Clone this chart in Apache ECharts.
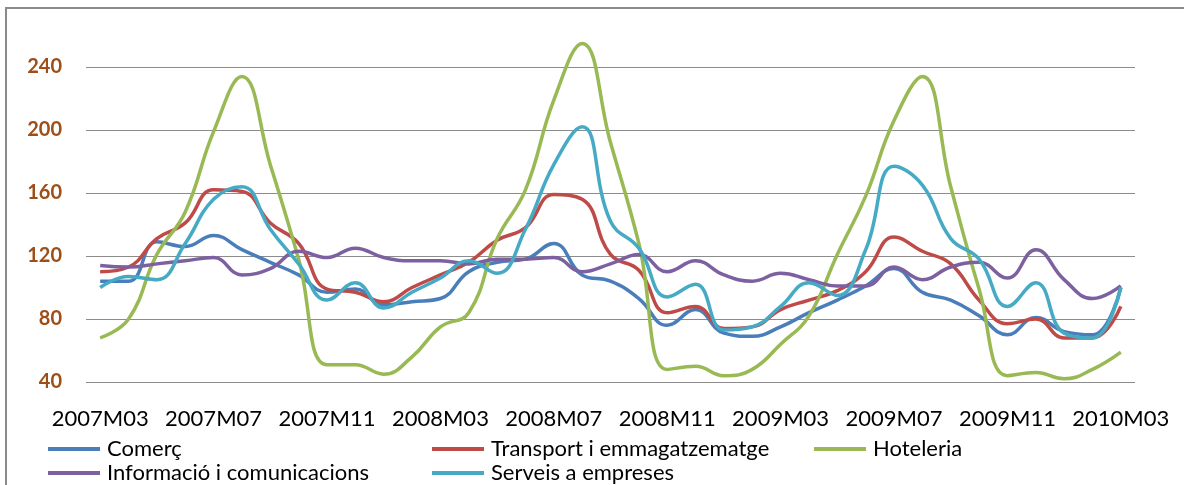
<!DOCTYPE html>
<html>
<head>
<meta charset="utf-8">
<script src="https://cdn.jsdelivr.net/npm/echarts@6/dist/echarts.min.js"></script>
<style>
  html, body { margin: 0; padding: 0; background: #ffffff; }
  #chart { width: 1184px; height: 485px; }
</style>
</head>
<body>
<div id="chart"></div>
<script>
const months = [
  '2007M03','2007M04','2007M05','2007M06','2007M07','2007M08','2007M09','2007M10','2007M11','2007M12',
  '2008M01','2008M02','2008M03','2008M04','2008M05','2008M06','2008M07','2008M08','2008M09','2008M10',
  '2008M11','2008M12','2009M01','2009M02','2009M03','2009M04','2009M05','2009M06','2009M07','2009M08',
  '2009M09','2009M10','2009M11','2009M12','2010M01','2010M02','2010M03'
];
const seriesNames = ['Comerç', 'Transport i emmagatzematge', 'Hoteleria', 'Informació i comunicacions', 'Serveis a empreses'];
const comerc = [104,104,129,126,133,124,116,108,97,99,89,91,93,110,116,118,128,108,104,93,76,86,71,69,75,84,92,101,112,97,92,82,70,81,72,70,100];
const transport = [110,113,131,141,162,161,141,128,99,97,91,100,108,116,130,138,159,156,121,111,84,88,74,75,86,92,98,110,132,123,115,92,77,80,68,68,88];
const hoteleria = [68,80,121,148,199,234,178,118,51,51,45,56,75,84,131,162,219,255,192,128,48,50,44,48,64,82,121,158,206,234,164,99,44,46,42,48,59];
const informacio = [114,113,115,117,119,108,112,123,119,125,119,117,117,115,118,118,119,110,115,121,110,117,108,104,109,105,101,101,113,105,113,116,106,124,105,93,101];
const serveis = [100,107,105,128,156,164,137,115,92,103,87,97,106,117,109,137,178,202,142,125,94,102,73,75,88,103,95,124,177,165,131,118,88,103,71,68,100];
const yTicks = [40, 80, 120, 160, 200, 240];

const colors = ['#4A7EBB', '#BE4B48', '#98B954', '#7D60A0', '#46AAC5'];
const values = [comerc, transport, hoteleria, informacio, serveis];
const FONT = 'Lato, "Liberation Sans", sans-serif';

const legendPos = [
  { left: 48, top: 438 },
  { left: 432, top: 438 },
  { left: 814, top: 438 },
  { left: 48, top: 462 },
  { left: 432, top: 462 }
];

const chart = echarts.init(document.getElementById('chart'), null, { renderer: 'canvas' });
chart.setOption({
  animation: false,
  backgroundColor: '#ffffff',
  color: colors,
  graphic: [{
    type: 'rect',
    shape: { x: 6, y: 8, width: 1300, height: 600 },
    style: { fill: 'none', stroke: '#8a8a8a', lineWidth: 2 },
    silent: true,
    z: 0
  }],
  grid: { left: 86, right: 49, top: 67, bottom: 103, containLabel: false },
  legend: seriesNames.map((n, i) => ({
    data: [n],
    left: legendPos[i].left,
    top: legendPos[i].top,
    padding: 0,
    icon: 'rect',
    itemWidth: 52,
    itemHeight: 4,
    itemGap: 0,
    textStyle: { fontFamily: FONT, fontSize: 22, color: '#000000', padding: [0, 0, 0, 2] }
  })),
  xAxis: {
    type: 'category',
    data: months,
    boundaryGap: true,
    axisLine: { show: false },
    axisTick: { show: false },
    axisLabel: {
      interval: 3,
      margin: 26,
      fontFamily: FONT,
      fontSize: 22,
      color: '#000000'
    },
    splitLine: { show: false }
  },
  yAxis: {
    type: 'value',
    min: yTicks[0],
    max: yTicks[yTicks.length - 1],
    interval: 40,
    axisLine: { show: false },
    axisTick: { show: false },
    axisLabel: {
      margin: 24,
      fontFamily: FONT,
      fontSize: 20,
      fontWeight: 'bold',
      color: '#9E4F17'
    },
    splitLine: { show: true, lineStyle: { color: '#8c8c8c', width: 1.2 } }
  },
  series: seriesNames.map((n, i) => ({
    name: n,
    type: 'line',
    data: values[i],
    smooth: 0.45,
    symbol: 'none',
    clip: false,
    lineStyle: { width: 3.5, color: colors[i] },
    itemStyle: { color: colors[i] }
  }))
});
</script>
</body>
</html>
